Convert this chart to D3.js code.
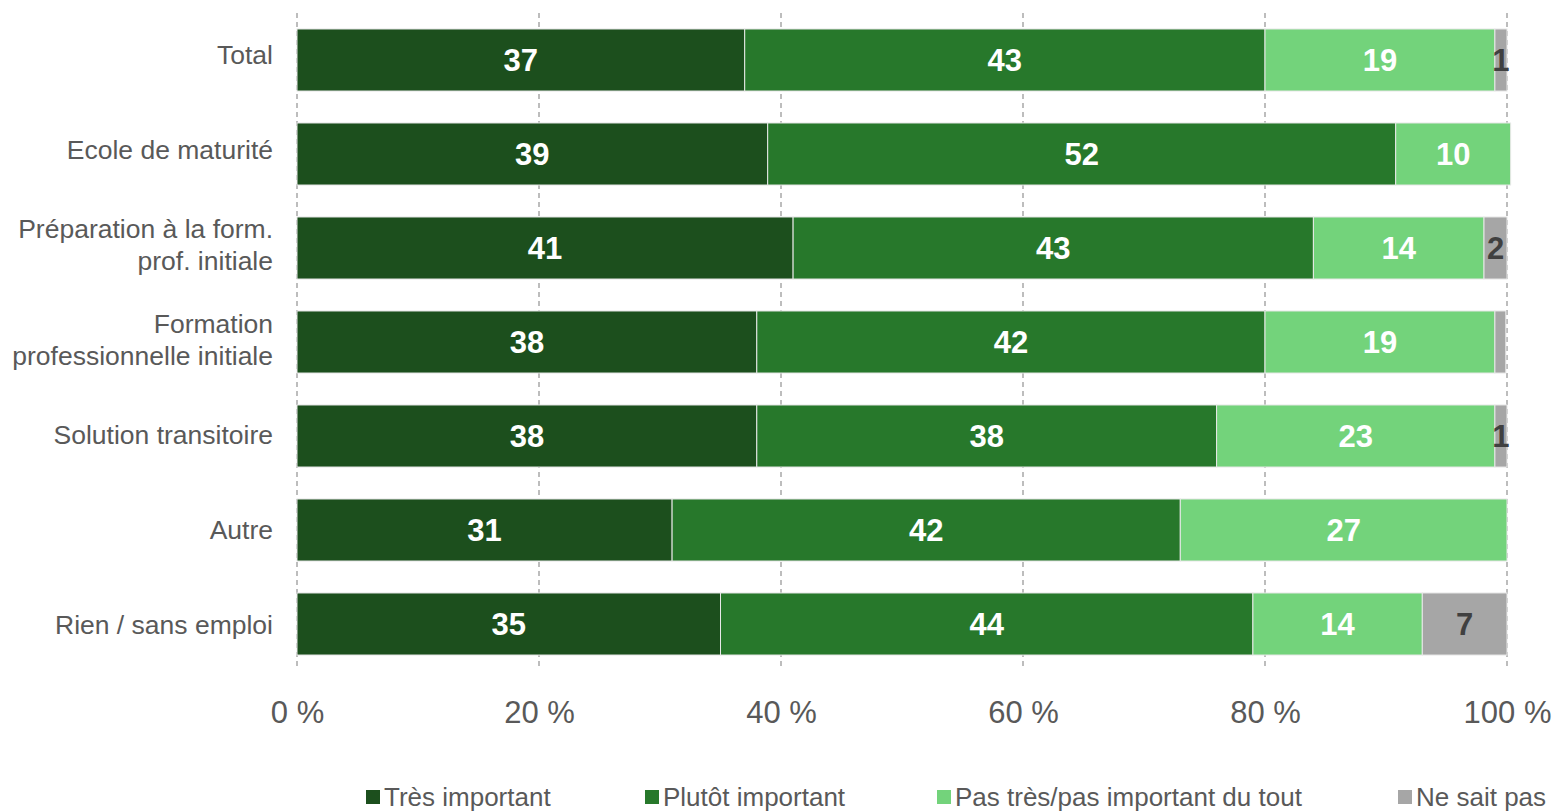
<!DOCTYPE html>
<html><head><meta charset="utf-8">
<script src="https://cdn.jsdelivr.net/npm/d3@7"></script>
<style>
html,body{margin:0;padding:0;background:#fff;}
svg{display:block;font-family:"Liberation Sans",Arial,Helvetica,sans-serif;}
</style></head>
<body><svg id="chart" width="1555" height="811"></svg>
<script>
const categories = [["Total"],["Ecole de maturité"],["Préparation à la form.","prof. initiale"],["Formation","professionnelle initiale"],["Solution transitoire"],["Autre"],["Rien / sans emploi"]];
const seriesNames = ["Très important","Plutôt important","Pas très/pas important du tout","Ne sait pas"];
const tresImportant   = [37, 38.9, 41, 38, 38, 31, 35];
const plutotImportant = [43, 51.9, 43, 42, 38, 42, 44];
const pasImportant    = [19, 9.5, 14.1, 19, 23, 27, 14];
const neSaitPas       = [1, 0, 1.9, 0.9, 1, 0, 7];
const tickValues = [0,20,40,60,80,100];
const colors = ["#1c4f1d","#27782b","#73d37b","#a6a6a6"];
const labelColors = ["#ffffff","#ffffff","#ffffff","#404040"];

const series = [tresImportant, plutotImportant, pasImportant, neSaitPas];
const svg = d3.select("#chart");
const x = d3.scaleLinear().domain([0,100]).range([297,1507]);
const y = d3.scaleBand().domain(d3.range(categories.length)).range([13,671]).paddingInner(0.34).paddingOuter(0.17);
const yLabel = d3.scalePoint().domain(d3.range(categories.length)).range([55,625]);

// gridlines
svg.append("g").selectAll("line").data(tickValues).join("line")
  .attr("x1",d=>x(d)).attr("x2",d=>x(d)).attr("y1",13).attr("y2",670)
  .attr("stroke","#9a9a9a").attr("stroke-width",1.3).attr("stroke-dasharray","5,4");

// axis tick labels
const axis = d3.axisBottom(x).tickValues(tickValues).tickSize(0).tickFormat(d=>d+" %");
const ag = svg.append("g").attr("transform","translate(0,701)").call(axis);
ag.select(".domain").remove();
ag.selectAll("text").attr("font-size",31).attr("fill","#595959").attr("dy","0.71em").attr("y",0)
  .style("font-family","'Liberation Sans',Arial,sans-serif");

// bars
const rows = categories.map((c,i)=>{
  let acc=0;
  return series.map((s,k)=>{const v=s[i]; const seg={row:i,k,x0:acc,x1:acc+v,v}; acc+=v; return seg;});
});
const segs = rows.flat().filter(d=>d.v>0);
svg.append("g").selectAll("rect").data(segs).join("rect")
  .attr("x",d=>x(d.x0)).attr("width",d=>x(d.x1)-x(d.x0))
  .attr("y",d=>y(d.row)).attr("height",y.bandwidth())
  .attr("fill",d=>colors[d.k]).attr("stroke","#e8e8e8").attr("stroke-width",1);

svg.append("g").selectAll("text").data(segs.filter(d=>d.v>=1)).join("text")
  .attr("x",d=>x((d.x0+d.x1)/2)).attr("y",d=>y(d.row)+y.bandwidth()/2)
  .attr("dy","0.36em").attr("text-anchor","middle")
  .attr("font-size",31).attr("font-weight","bold").attr("fill",d=>labelColors[d.k])
  .text(d=>Math.round(d.v));

// category labels
const cg = svg.append("g").selectAll("text").data(categories).join("text")
  .attr("x",273).attr("y",(d,i)=>yLabel(i))
  .attr("text-anchor","end").attr("font-size",26.5).attr("fill","#595959");
cg.each(function(lines){
  const t=d3.select(this);
  const n=lines.length;
  lines.forEach((l,j)=>{
    t.append("tspan").attr("x",273).attr("dy", j===0 ? ((0.35 - (n-1)*0.6)+"em") : "1.2em").text(l);
  });
});

// legend
const legendX = [366, 645, 937, 1398];
const lg = svg.append("g").selectAll("g").data(seriesNames).join("g")
  .attr("transform",(d,i)=>`translate(${legendX[i]},790)`);
lg.append("rect").attr("width",14).attr("height",14).attr("fill",(d,i)=>colors[i]);
lg.append("text").attr("x",18).attr("y",16).attr("font-size",26).attr("fill","#595959").text(d=>d);
</script>
</body></html>
